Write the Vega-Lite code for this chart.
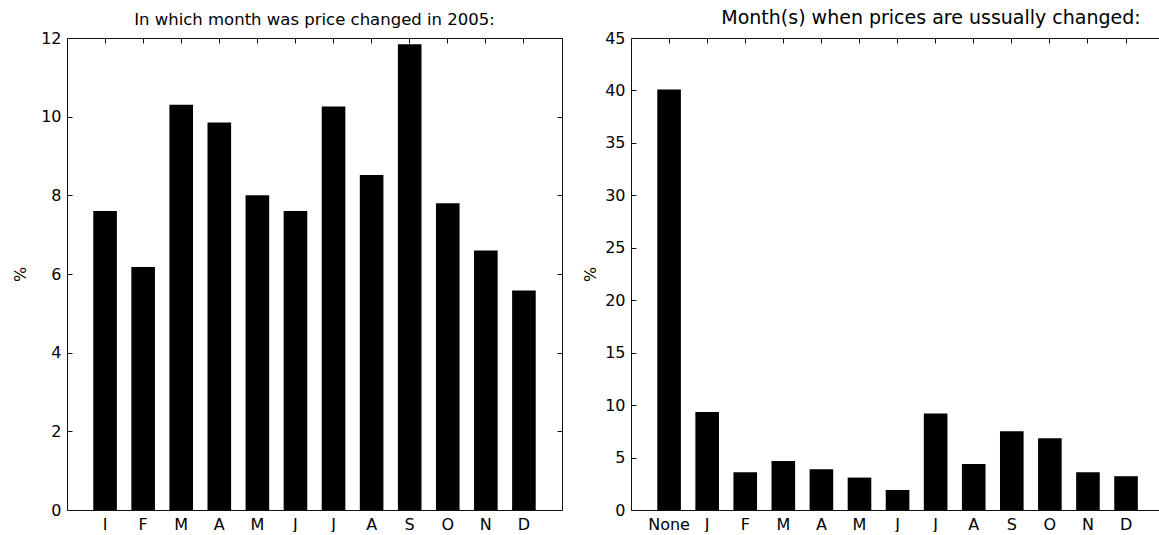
{
  "$schema": "https://vega.github.io/schema/vega-lite/v6.json",
  "padding": {"left": 12, "top": 9, "right": 0, "bottom": 0},
  "background": "white",
  "spacing": 69,
  "bounds": "flush",
  "datasets": {
    "y2005": [
      {"k": "01 I", "v": 7.6},
      {"k": "02 F", "v": 6.18},
      {"k": "03 M", "v": 10.3},
      {"k": "04 A", "v": 9.85},
      {"k": "05 M", "v": 8.0},
      {"k": "06 J", "v": 7.6},
      {"k": "07 J", "v": 10.26},
      {"k": "08 A", "v": 8.52},
      {"k": "09 S", "v": 11.84},
      {"k": "10 O", "v": 7.8},
      {"k": "11 N", "v": 6.6},
      {"k": "12 D", "v": 5.58}
    ],
    "usual": [
      {"k": "00 None", "v": 40.1},
      {"k": "01 J", "v": 9.35},
      {"k": "02 F", "v": 3.6},
      {"k": "03 M", "v": 4.68},
      {"k": "04 A", "v": 3.89},
      {"k": "05 M", "v": 3.09},
      {"k": "06 J", "v": 1.91},
      {"k": "07 J", "v": 9.2},
      {"k": "08 A", "v": 4.39},
      {"k": "09 S", "v": 7.5},
      {"k": "10 O", "v": 6.85},
      {"k": "11 N", "v": 3.6},
      {"k": "12 D", "v": 3.22}
    ]
  },
  "hconcat": [
    {
      "width": 495,
      "height": 472,
      "data": {"name": "y2005"},
      "title": {"text": "In which month was price changed in 2005:", "fontSize": 16.5},
      "layer": [
        {
          "mark": {"type": "bar", "color": "#000"},
          "encoding": {
            "x": {"field": "k", "type": "nominal", "sort": "ascending",
              "scale": {"paddingInner": 0.38, "paddingOuter": 0.69, "align": 0.5},
              "axis": {"orient": "bottom", "title": null, "labelAngle": 0, "labelExpr": "substring(datum.value, 3)"}},
            "y": {"field": "v", "type": "quantitative",
              "scale": {"domain": [0, 12], "nice": false, "zero": true},
              "axis": {"orient": "left", "values": [0, 2, 4, 6, 8, 10, 12], "title": "%", "titleX": -47, "titleY": 236, "titleAngle": 270, "titleAlign": "center", "titleBaseline": "middle"}}
          }
        },
        {
          "mark": {"type": "bar", "opacity": 0},
          "encoding": {
            "x": {"field": "k", "type": "nominal", "sort": "ascending",
              "axis": {"orient": "top", "title": null, "labels": false}},
            "y": {"field": "v", "type": "quantitative",
              "axis": {"orient": "right", "values": [0, 2, 4, 6, 8, 10, 12], "title": null, "labels": false}}
          }
        }
      ],
      "resolve": {"axis": {"x": "independent", "y": "independent"}}
    },
    {
      "width": 528,
      "height": 472,
      "data": {"name": "usual"},
      "title": {"text": "Month(s) when prices are ussually changed:", "dx": 36, "fontSize": 19},
      "layer": [
        {
          "mark": {"type": "bar", "color": "#000"},
          "encoding": {
            "x": {"field": "k", "type": "nominal", "sort": "ascending",
              "scale": {"paddingInner": 0.38, "paddingOuter": 0.623, "align": 0.554},
              "axis": {"orient": "bottom", "title": null, "labelAngle": 0, "labelExpr": "substring(datum.value, 3)"}},
            "y": {"field": "v", "type": "quantitative",
              "scale": {"domain": [0, 45], "nice": false, "zero": true},
              "axis": {"orient": "left", "values": [0, 5, 10, 15, 20, 25, 30, 35, 40, 45], "title": "%", "titleX": -41, "titleY": 236, "titleAngle": 270, "titleAlign": "center", "titleBaseline": "middle"}}
          }
        },
        {
          "mark": {"type": "bar", "opacity": 0},
          "encoding": {
            "x": {"field": "k", "type": "nominal", "sort": "ascending",
              "axis": {"orient": "top", "title": null, "labels": false}}
          }
        }
      ],
      "resolve": {"axis": {"x": "independent", "y": "independent"}}
    }
  ],
  "config": {
    "view": {"stroke": null},
    "axis": {
      "grid": false,
      "domainColor": "#111",
      "domainWidth": 1,
      "tickColor": "#111",
      "tickSize": -5,
      "labelPadding": 11,
      "labelColor": "#000",
      "labelFont": "DejaVu Sans",
      "labelFontSize": 16,
      "labelFlush": false,
      "labelOverlap": false,
      "titleFont": "DejaVu Sans",
      "titleFontSize": 16,
      "titleFontWeight": "normal",
      "titleColor": "#000"
    },
    "title": {
      "font": "DejaVu Sans",
      "fontWeight": "normal",
      "color": "#000",
      "anchor": "middle",
      "baseline": "alphabetic",
      "offset": 2
    }
  }
}
